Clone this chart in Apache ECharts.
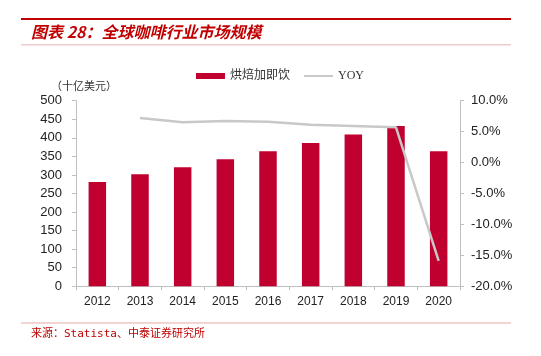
<!DOCTYPE html>
<html><head><meta charset="utf-8">
<script src="https://cdn.jsdelivr.net/npm/echarts@6/dist/echarts.min.js"></script>
<style>html,body{margin:0;padding:0;background:#fff}#c{width:541px;height:356px}</style>
</head><body><div id="c"></div>
<script>
const categories = ['2012','2013','2014','2015','2016','2017','2018','2019','2020'];
const marketSize = [281, 302, 321, 342, 364, 386, 409, 432, 364];
const yoy = [null, 7.2, 6.5, 6.7, 6.6, 6.1, 5.9, 5.7, -15.9];
const leftTicks = [0, 500, 50];
const rightTicks = [-20, 10, 5];

const chart = echarts.init(document.getElementById('c'), null, {renderer:'canvas'});
const red = '#C00000';
chart.setOption({
  animation:false,
  backgroundColor:'#fff',
  grid:{left:76, right:81, top:100.7, bottom:69.7},
  legend:{
    left:191, top:65, itemWidth:29, itemHeight:6, itemGap:14,
    textStyle:{fontFamily:'Liberation Serif, Noto Sans CJK SC', fontSize:12, color:'#333'},
    data:[{name:'烘焙加即饮', icon:'rect'}, {name:'YOY', icon:'path://M0,0H30V2H0Z'}]
  },
  xAxis:{
    type:'category', data:categories,
    axisLine:{lineStyle:{color:'#bfbfbf', width:1}},
    axisTick:{show:true, length:4, lineStyle:{color:'#bfbfbf'}},
    axisLabel:{color:'#222', fontFamily:'Liberation Sans', fontSize:12, margin:9}
  },
  yAxis:[{
    type:'value', min:leftTicks[0], max:leftTicks[1], interval:leftTicks[2],
    splitLine:{show:false},
    axisLine:{show:true, lineStyle:{color:'#bfbfbf'}},
    axisTick:{show:true, length:4, lineStyle:{color:'#bfbfbf'}},
    axisLabel:{color:'#222', fontFamily:'Liberation Sans', fontSize:13, margin:14}
  },{
    type:'value', min:rightTicks[0], max:rightTicks[1], interval:rightTicks[2],
    splitLine:{show:false},
    axisLine:{show:true, lineStyle:{color:'#bfbfbf'}},
    axisTick:{show:true, length:4, lineStyle:{color:'#bfbfbf'}},
    axisLabel:{color:'#222', fontFamily:'Liberation Sans', fontSize:13, margin:11,
      formatter:v=>v.toFixed(1)+'%'}
  }],
  series:[{
    name:'烘焙加即饮', type:'bar', data:marketSize, barWidth:'41%',
    itemStyle:{color:'#C0002F'}
  },{
    name:'YOY', type:'line', yAxisIndex:1, data:yoy, symbol:'none',
    lineStyle:{color:'#c8c8c8', width:2.5}, itemStyle:{color:'#c8c8c8'}
  }],
  graphic:[
    {type:'rect', shape:{x:21, y:18, width:490, height:2}, style:{fill:red}},
    {type:'text', left:31, top:24, style:{text:'图表 28：全球咖啡行业市场规模', fill:red,
      font:'italic bold 16px "Noto Sans CJK SC"'}},
    {type:'rect', shape:{x:21, y:44.5, width:490, height:0.8}, style:{fill:'#e09a9a'}},
    {type:'text', left:51, top:80, style:{text:'（十亿美元）', fill:'#333',
      font:'11px "Noto Sans CJK SC"'}},
    {type:'rect', shape:{x:21, y:322.5, width:490, height:1}, style:{fill:'#eaa8a8'}},
    {type:'text', left:31, top:329, style:{text:'来源：Statista、中泰证券研究所', fill:red,
      font:'11px "DejaVu Sans Mono", "Noto Sans CJK SC"'}}
  ]
});
</script></body></html>
